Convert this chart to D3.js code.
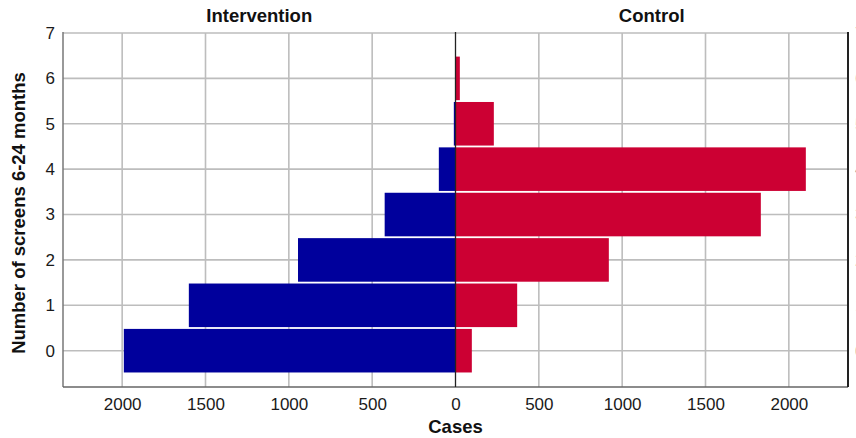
<!DOCTYPE html>
<html>
<head>
<meta charset="utf-8">
<script src="https://cdn.jsdelivr.net/npm/d3@7/dist/d3.min.js"></script>
<style>
  html, body { margin: 0; padding: 0; background: #fff; }
  svg { display: block; font-family: "Liberation Sans", Arial, sans-serif; }
</style>
</head>
<body>
<svg id="chart" width="856" height="438"></svg>
<script>
// ---- data ----
const categories = [0, 1, 2, 3, 4, 5, 6, 7];
const intervention = [1990, 1600, 945, 425, 100, 10, 3, 0];
const control = [98, 370, 920, 1832, 2102, 230, 26, 3];
const xTicks = [0, 500, 1000, 1500, 2000];
const yTicks = [0, 1, 2, 3, 4, 5, 6, 7];
const panelTitles = ["Intervention", "Control"];
const xTitle = "Cases";
const yTitle = "Number of screens 6-24 months";

(function () {
// ---- layout ----
const pLeft = 63, pMid = 455.5, pRight = 848, pTop = 33, pBottom = 387;
const xMax = 2355;
const svg = d3.select("#chart");

const xL = d3.scaleLinear().domain([0, xMax]).range([pMid, pLeft]);
const xR = d3.scaleLinear().domain([0, xMax]).range([pMid, pRight]);
const y = d3.scaleLinear().domain([-0.8, 7]).range([pBottom, pTop]);
const half = 0.48;

svg.append("defs").append("clipPath").attr("id", "plotclip")
  .append("rect").attr("x", pLeft).attr("y", pTop)
  .attr("width", pRight - pLeft).attr("height", pBottom - pTop);

const gridColor = "#bdbdbd";
// horizontal gridlines
svg.append("g").selectAll("line").data(yTicks).join("line")
  .attr("x1", pLeft).attr("x2", pRight)
  .attr("y1", d => y(d)).attr("y2", d => y(d))
  .attr("stroke", gridColor).attr("stroke-width", 1.6);
// vertical gridlines
[xL, xR].forEach(sc => {
  svg.append("g").selectAll("line").data(xTicks.filter(t => t > 0)).join("line")
    .attr("x1", d => sc(d)).attr("x2", d => sc(d))
    .attr("y1", pTop).attr("y2", pBottom)
    .attr("stroke", gridColor).attr("stroke-width", 1.6);
});

// bars
const bars = svg.append("g").attr("clip-path", "url(#plotclip)");
bars.selectAll("rect.int").data(categories).join("rect").attr("class", "int")
  .attr("x", (c, i) => xL(intervention[i]))
  .attr("width", (c, i) => xL(0) - xL(intervention[i]))
  .attr("y", c => y(c + half))
  .attr("height", c => y(c - half) - y(c + half))
  .attr("fill", "#00009c");
bars.selectAll("rect.ctl").data(categories).join("rect").attr("class", "ctl")
  .attr("x", xR(0))
  .attr("width", (c, i) => xR(control[i]) - xR(0))
  .attr("y", c => y(c + half))
  .attr("height", c => y(c - half) - y(c + half))
  .attr("fill", "#cc0033");

// frame lines
svg.append("line").attr("x1", pLeft).attr("x2", pLeft).attr("y1", pTop - 1).attr("y2", pBottom)
  .attr("stroke", "#777").attr("stroke-width", 1.5);
svg.append("line").attr("x1", pLeft).attr("x2", pRight).attr("y1", pBottom).attr("y2", pBottom)
  .attr("stroke", "#666").attr("stroke-width", 1.5);
svg.append("line").attr("x1", pRight).attr("x2", pRight).attr("y1", pTop - 1).attr("y2", pBottom)
  .attr("stroke", "#222").attr("stroke-width", 2);
svg.append("line").attr("x1", pMid).attr("x2", pMid).attr("y1", pTop - 1).attr("y2", pBottom)
  .attr("stroke", "#222").attr("stroke-width", 1.3);

// axes
function styleAxis(g) {
  g.select(".domain").remove();
  g.selectAll(".tick line").remove();
  g.selectAll("text").attr("font-size", 17).attr("fill", "#1a1a1a")
    .attr("font-family", "'Liberation Sans', Arial, sans-serif");
}
svg.append("g").attr("transform", `translate(0,${pBottom})`)
  .call(d3.axisBottom(xL).tickValues(xTicks).tickFormat(d3.format("d")).tickSize(0).tickPadding(11))
  .call(styleAxis);
svg.append("g").attr("transform", `translate(0,${pBottom})`)
  .call(d3.axisBottom(xR).tickValues(xTicks.filter(t => t > 0)).tickFormat(d3.format("d")).tickSize(0).tickPadding(11))
  .call(styleAxis);
svg.append("g").attr("transform", `translate(${pLeft},0)`)
  .call(d3.axisLeft(y).tickValues(yTicks).tickFormat(d3.format("d")).tickSize(0).tickPadding(8))
  .call(styleAxis);
// right-panel y tick labels: mostly outside the picture, as in the reference
svg.append("g").attr("transform", `translate(${pRight},0)`)
  .call(d3.axisRight(y).tickValues(yTicks).tickFormat(d3.format("d")).tickSize(0).tickPadding(7))
  .call(styleAxis)
  .selectAll("text").attr("fill", "#999");

// titles
const titleStyle = t => t.attr("font-weight", "bold").attr("font-size", 18.5)
  .attr("fill", "#111").attr("text-anchor", "middle");
svg.append("text").attr("x", (pLeft + pMid) / 2).attr("y", 22).text(panelTitles[0]).call(titleStyle);
svg.append("text").attr("x", (pMid + pRight) / 2).attr("y", 22).text(panelTitles[1]).call(titleStyle);
svg.append("text").attr("x", pMid).attr("y", 433).text(xTitle).call(titleStyle);
svg.append("text").attr("transform", "translate(25,213) rotate(-90)").text(yTitle).call(titleStyle);
})();
</script>
</body>
</html>
